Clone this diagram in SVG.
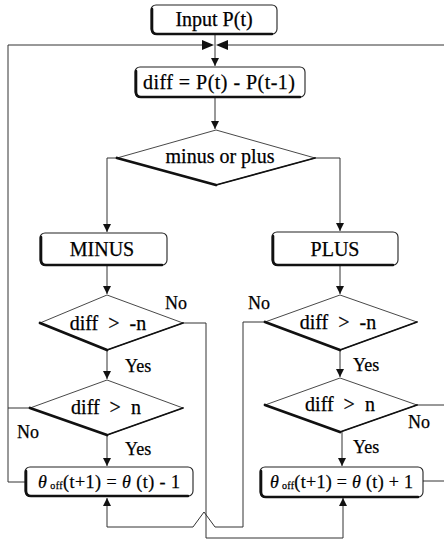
<svg xmlns="http://www.w3.org/2000/svg" width="444" height="541" viewBox="0 0 444 541">
<style>
text{font-family:"Liberation Serif","Times New Roman",serif;fill:#000;stroke:#000;stroke-width:0.25;white-space:pre;}
.t{font-size:20px;text-anchor:middle;}
.lbl{font-size:18px;}
.box{fill:#fff;stroke:#222;stroke-width:1.1;}
.sh{fill:none;stroke:#111;stroke-width:2.6;stroke-linecap:round;}
.dia{fill:#fff;stroke:#333;stroke-width:0.9;}
.dsh{fill:none;stroke:#111;stroke-linecap:round;}
.c{fill:none;stroke:#333;stroke-width:1;}
.ah{fill:#111;}
.th{font-style:italic;}
</style>
<defs>
<marker id="arr" viewBox="0 0 10 10" refX="10" refY="5" markerWidth="8" markerHeight="9" markerUnits="userSpaceOnUse" orient="auto">
<path d="M0,0 L10,5 L0,10 z" class="ah"/>
</marker>
</defs>

<g id="connectors">
<path class="c" d="M215,34 V66" marker-end="url(#arr)"/>
<path class="c" d="M8,45 H203"/>
<path class="c" d="M227,45 H444"/>
<polygon class="ah" points="202,40 214,45 202,50"/>
<polygon class="ah" points="228,40 216,45 228,50"/>
<path class="c" d="M215,97 V129" marker-end="url(#arr)"/>
<path class="c" d="M117,158 H107 V232" marker-end="url(#arr)"/>
<path class="c" d="M315,158 H340 V231" marker-end="url(#arr)"/>
<path class="c" d="M107,265 V294" marker-end="url(#arr)"/>
<path class="c" d="M107,350 V379" marker-end="url(#arr)"/>
<path class="c" d="M107,435 V466" marker-end="url(#arr)"/>
<path class="c" d="M340,265 V294" marker-end="url(#arr)"/>
<path class="c" d="M340,350 V377" marker-end="url(#arr)"/>
<path class="c" d="M342,432 V466" marker-end="url(#arr)"/>
<path class="c" d="M25,482 H8 V45"/>
<path class="c" d="M30,408 H8"/>
<path class="c" d="M423,481 H444"/>
<path class="c" d="M417,405 H444"/>
<path class="c" d="M183,323 H206 V538 H343 V498" marker-end="url(#arr)"/>
<path class="c" d="M265,322 H243 V527 H215 L204,512 L193,527 H107 V498" marker-end="url(#arr)"/>
</g>

<g id="input">
<rect class="box" x="151" y="5" width="126" height="29" rx="5"/>
<path class="sh" d="M152,9 V29 Q152,34 157,34 H272"/>
<text class="t" x="214" y="26">Input P(t)</text>
</g>

<g id="diff">
<rect class="box" x="135" y="67" width="170" height="30" rx="5"/>
<path class="sh" d="M136,71 V92 Q136,97 141,97 H300"/>
<text class="t" x="219" y="89" textLength="152">diff = P(t) - P(t-1)</text>
</g>

<g id="minusorplus">
<polygon class="dia" points="117,158 216,130 315,158 216,185"/>
<path class="dsh" d="M117,158 L216,185" stroke-width="2.8"/>
<path class="dsh" d="M216,185 L315,158" stroke-width="1.8"/>
<text class="t" x="220" y="163" font-size="21">minus or plus</text>
</g>

<g id="minus">
<rect class="box" x="40" y="233" width="127" height="32" rx="5"/>
<path class="sh" d="M41,237 V260 Q41,265 46,265 H162"/>
<text class="t" x="102" y="256" font-size="17">MINUS</text>
</g>

<g id="plus">
<rect class="box" x="272" y="232" width="126" height="33" rx="5"/>
<path class="sh" d="M273,236 V260 Q273,265 278,265 H393"/>
<text class="t" x="335" y="256" font-size="18">PLUS</text>
</g>

<g id="minus-d1">
<polygon class="dia" points="40,323 107,295 183,323 107,350"/>
<path class="dsh" d="M40,323 L107,350" stroke-width="2.8"/>
<path class="dsh" d="M107,350 L183,323" stroke-width="1.8"/>
<text class="t" x="108" y="330">diff  &gt;  -n</text>
<text class="lbl" x="165" y="309">No</text>
<text class="lbl" x="125" y="372">Yes</text>
</g>

<g id="minus-d2">
<polygon class="dia" points="30,408 107,380 183,408 107,435"/>
<path class="dsh" d="M30,408 L107,435" stroke-width="2.8"/>
<path class="dsh" d="M107,435 L183,408" stroke-width="1.8"/>
<text class="t" x="106" y="414">diff  &gt;  n</text>
<text class="lbl" x="17" y="438">No</text>
<text class="lbl" x="125" y="455">Yes</text>
</g>

<g id="minus-out">
<rect class="box" x="25" y="467" width="168" height="29" rx="5"/>
<path class="sh" d="M26,471 V491 Q26,496 31,496 H188"/>
<text x="38" y="488" font-size="18" textLength="142"><tspan class="th">θ</tspan><tspan font-size="10" dy="1"> off</tspan><tspan dy="-1">(t+1) = </tspan><tspan class="th">θ</tspan> (t) - 1</text>
</g>

<g id="plus-d1">
<polygon class="dia" points="265,322 340,295 417,322 340,350"/>
<path class="dsh" d="M265,322 L340,350" stroke-width="2.8"/>
<path class="dsh" d="M340,350 L417,322" stroke-width="1.8"/>
<text class="t" x="338" y="329">diff  &gt;  -n</text>
<text class="lbl" x="248" y="309">No</text>
<text class="lbl" x="353" y="371">Yes</text>
</g>

<g id="plus-d2">
<polygon class="dia" points="265,405 340,378 417,405 340,432"/>
<path class="dsh" d="M265,405 L340,432" stroke-width="2.8"/>
<path class="dsh" d="M340,432 L417,405" stroke-width="1.8"/>
<text class="t" x="340" y="411">diff  &gt;  n</text>
<text class="lbl" x="408" y="428">No</text>
<text class="lbl" x="353" y="453">Yes</text>
</g>

<g id="plus-out">
<rect class="box" x="260" y="467" width="163" height="30" rx="5"/>
<path class="sh" d="M261,471 V492 Q261,497 266,497 H418"/>
<text x="270" y="488" font-size="18" textLength="143"><tspan class="th">θ</tspan><tspan font-size="10" dy="1"> off</tspan><tspan dy="-1">(t+1) = </tspan><tspan class="th">θ</tspan> (t) + 1</text>
</g>
</svg>
